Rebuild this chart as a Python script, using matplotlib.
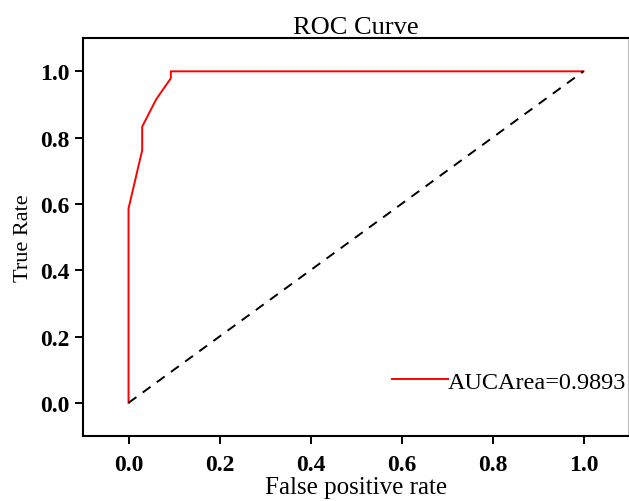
import matplotlib
matplotlib.use('Agg')
import matplotlib.pyplot as plt

# ROC points
fpr = [0.0, 0.0, 0.030, 0.030, 0.061, 0.093, 0.093, 1.0]
tpr = [0.0, 0.586, 0.762, 0.833, 0.916, 0.979, 1.0, 1.0]
auc_label = 'AUCArea=0.9893'
ticks = [0.0, 0.2, 0.4, 0.6, 0.8, 1.0]

plt.rcParams['font.family'] = ['Liberation Serif', 'DejaVu Serif']

fig = plt.figure(figsize=(6.29, 5.02), dpi=100)
ax = fig.add_axes([0.132, 0.1295, 0.868, 0.7925])

ax.plot(fpr, tpr, color='red', lw=1.4, label=auc_label)
ax.plot([0, 1], [0, 1], color='black', lw=1.4, ls=(0, (5, 4)))

ax.set_xlim(-0.1, 1.1)
ax.set_ylim(-0.1, 1.1)
ax.set_xticks(ticks)
ax.set_yticks(ticks)
ax.set_xticklabels(['%.1f' % t for t in ticks], fontweight='bold', fontsize=17)
ax.set_yticklabels(['%.1f' % t for t in ticks], fontweight='bold', fontsize=17)
ax.tick_params(direction='out', length=6, width=1.4)
ax.tick_params(axis='x', pad=7)
ax.tick_params(axis='y', pad=4)
for s in ax.spines.values():
    s.set_linewidth(1.5)
ax.spines['right'].set_color('#bbbbbb')

ax.set_title('ROC Curve', fontsize=19, pad=4)
ax.set_xlabel('False positive rate', fontsize=18, labelpad=0.5)
ax.set_ylabel('True Rate', fontsize=16, labelpad=5)

ax.legend(loc='center left', frameon=False, fontsize=17.5, handlelength=2.3,
          handletextpad=0.0, borderpad=0, borderaxespad=0,
          bbox_to_anchor=(0.566, 0.136))

fig.savefig('out.png', dpi=100)
